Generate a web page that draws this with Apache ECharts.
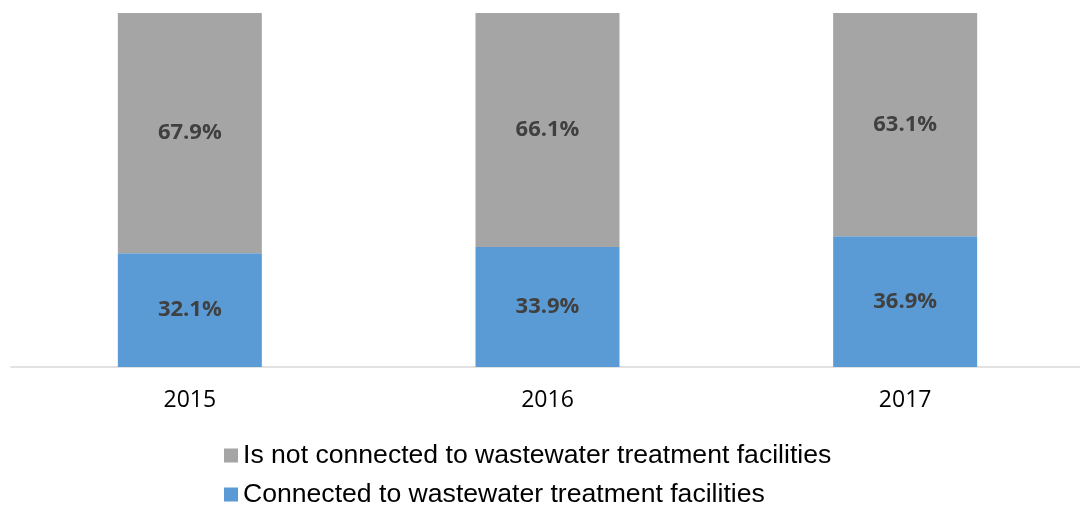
<!DOCTYPE html>
<html>
<head>
<meta charset="utf-8">
<script src="https://cdn.jsdelivr.net/npm/echarts@6/dist/echarts.min.js"></script>
<style>
html,body{margin:0;padding:0;background:#fff;overflow:hidden;width:1080px;height:506px;}
#chart{width:1090px;height:506px;}
</style>
</head>
<body>
<div id="chart"></div>
<script>
var categories = ['2015', '2016', '2017'];
var connected = [32.1, 33.9, 36.9];
var notConnected = [67.9, 66.1, 63.1];
var seriesNames = ['Is not connected to wastewater treatment facilities', 'Connected to wastewater treatment facilities'];

var chart = echarts.init(document.getElementById('chart'));
var labelStyle = {
  show: true,
  position: 'inside',
  formatter: function (p) { return p.value.toFixed(1) + '%'; },
  color: '#404040',
  fontFamily: 'Open Sans',
  fontWeight: 'bold',
  fontSize: 22
};
var legendText = { fontFamily: 'Liberation Sans', fontSize: 26.6, lineHeight: 26, color: '#000' };
chart.setOption({
  animation: false,
  grid: { left: 11, width: 1073, top: 13, height: 354, containLabel: false },
  legend: [
    {
      data: [seriesNames[0]],
      left: 219, top: 437,
      itemWidth: 14, itemHeight: 14, itemGap: 6, icon: 'rect',
      textStyle: legendText
    },
    {
      data: [seriesNames[1]],
      left: 219, top: 476,
      itemWidth: 14, itemHeight: 14, itemGap: 6, icon: 'rect',
      textStyle: legendText
    }
  ],
  xAxis: {
    type: 'category',
    data: categories,
    axisLine: { lineStyle: { color: '#d9d9d9', width: 1.5 } },
    axisTick: { show: false },
    axisLabel: { fontFamily: 'Open Sans', fontSize: 23, color: '#000', margin: 22 }
  },
  yAxis: {
    type: 'value', min: 0, max: 100, show: false,
    splitLine: { show: false }
  },
  series: [
    {
      name: seriesNames[1], type: 'bar', stack: 'a', data: connected,
      barWidth: 144,
      itemStyle: { color: '#5b9bd5' },
      label: labelStyle
    },
    {
      name: seriesNames[0], type: 'bar', stack: 'a', data: notConnected,
      barWidth: 144,
      itemStyle: { color: '#a5a5a5' },
      label: labelStyle
    }
  ]
});
</script>
</body>
</html>
